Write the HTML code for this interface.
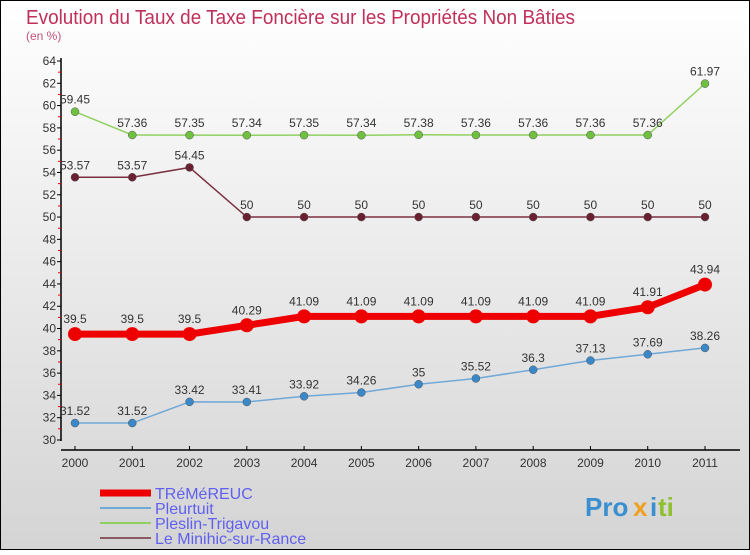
<!DOCTYPE html>
<html><head><meta charset="utf-8"><style>
html,body{margin:0;padding:0;}
body{width:750px;height:550px;overflow:hidden;font-family:"Liberation Sans",sans-serif;}
</style></head><body>
<svg width="750" height="550" xmlns="http://www.w3.org/2000/svg">
<defs><linearGradient id="bg" x1="0" y1="0" x2="0" y2="1"><stop offset="0" stop-color="#ffffff"/><stop offset="1" stop-color="#d4d4d4"/></linearGradient></defs>
<rect x="0.5" y="0.5" width="749" height="549" fill="url(#bg)" stroke="#000"/>
<text x="26" y="24" font-size="20" fill="#c0305a" textLength="549" lengthAdjust="spacingAndGlyphs">Evolution du Taux de Taxe Foncière sur les Propriétés Non Bâties</text>
<text x="26" y="40" font-size="12" fill="#c0507a">(en %)</text>
<g id="axes"></g>
<g id="series"></g>
<g id="legend" font-size="16" fill="#6060f0"></g>
<g font-size="26" font-weight="bold">
<text x="585" y="516" fill="#3a8fd0">Pro</text><text x="633" y="516" fill="#f0a020">x</text><text x="650" y="516" fill="#3a8fd0">i</text><text x="658" y="516" fill="#90c030">ti</text>
</g>
</svg>
<script>
const years=[2000,2001,2002,2003,2004,2005,2006,2007,2008,2009,2010,2011];
const yTicks=[30,32,34,36,38,40,42,44,46,48,50,52,54,56,58,60,62,64];
const tremereuc=[39.5,39.5,39.5,40.29,41.09,41.09,41.09,41.09,41.09,41.09,41.91,43.94];
const pleurtuit=[31.52,31.52,33.42,33.41,33.92,34.26,35,35.52,36.3,37.13,37.69,38.26];
const pleslin=[59.45,57.36,57.35,57.34,57.35,57.34,57.38,57.36,57.36,57.36,57.36,61.97];
const minihic=[53.57,53.57,54.45,50,50,50,50,50,50,50,50,50];
const names=["TRéMéREUC","Pleurtuit","Pleslin-Trigavou","Le Minihic-sur-Rance"];
const NS="http://www.w3.org/2000/svg";
const xs=i=>75+i*(705-75)/11;
const ys=v=>440-(v-30)*(440-61)/34;
function mk(t,a,p){const e=document.createElementNS(NS,t);for(const k in a)e.setAttribute(k,a[k]);p.appendChild(e);return e;}
const ax=document.getElementById('axes');
let l=mk('line',{x1:61,y1:58,x2:61,y2:441,stroke:'#000','stroke-width':1.5},ax);


l=mk('line',{x1:61,y1:450,x2:740,y2:450,stroke:'#000','stroke-width':1.5},ax);


yTicks.forEach((v,i)=>{
 mk('line',{x1:57,y1:ys(v),x2:61,y2:ys(v),stroke:'#000'},ax);
 if(i<yTicks.length-1)mk('line',{x1:58,y1:ys(v+1),x2:61,y2:ys(v+1),stroke:'#e00'},ax);
 const t=mk('text',{x:56,y:ys(v)+4,'font-size':12,'text-anchor':'end',fill:'#333'},ax);
 t.textContent=v;
 
 
});
years.forEach((y,i)=>{
 mk('line',{x1:xs(i),y1:446,x2:xs(i),y2:450,stroke:'#000'},ax);
 const t=mk('text',{x:xs(i),y:467,'font-size':12,'text-anchor':'middle',fill:'#333'},ax);
 t.textContent=y;
 
 
});
const sg=document.getElementById('series');
const cfg=[[pleslin,'#90d060','#70c040',1.5,4],[minihic,'#7a3040','#6a2030',1.5,4],[pleurtuit,'#70a8d8','#3a88c8',1.5,4],[tremereuc,'#ee0000','#ee0000',7,7]];
const keys=['pleslin-trigavou','le-minihic-sur-rance','pleurtuit','tremereuc'];
cfg.forEach((c,k)=>{
 const g=mk('g',{},sg);
 
 
 const pts=c[0].map((v,i)=>xs(i)+','+ys(v)).join(' ');
 const pl=mk('polyline',{points:pts,fill:'none',stroke:c[1],'stroke-width':c[3]},g);
 
 
 c[0].forEach((v,i)=>{
  const p=mk('circle',{cx:xs(i),cy:ys(v),r:c[4],fill:c[2],stroke:k==3?'none':'#555','stroke-width':0.5},g);
  
  
  const t=mk('text',{x:xs(i),y:ys(v)-(k==3?11:8),'font-size':12,'text-anchor':'middle',fill:'#333'},g);
  t.textContent=v;
  
  
 });
});
const lg=document.getElementById('legend');
const lc=['#ee0000','#70a8d8','#90d060','#8a5a60'],lw=[7,2,2,2];
names.forEach((n,i)=>{
 const y=493+i*15;
 const g=mk('g',{},lg);
 
 
 mk('line',{x1:100,y1:y,x2:151,y2:y,stroke:lc[i],'stroke-width':lw[i]},g);
 const t=mk('text',{x:155,y:y+6},g);
 t.textContent=n;
});
</script>
</body></html>
